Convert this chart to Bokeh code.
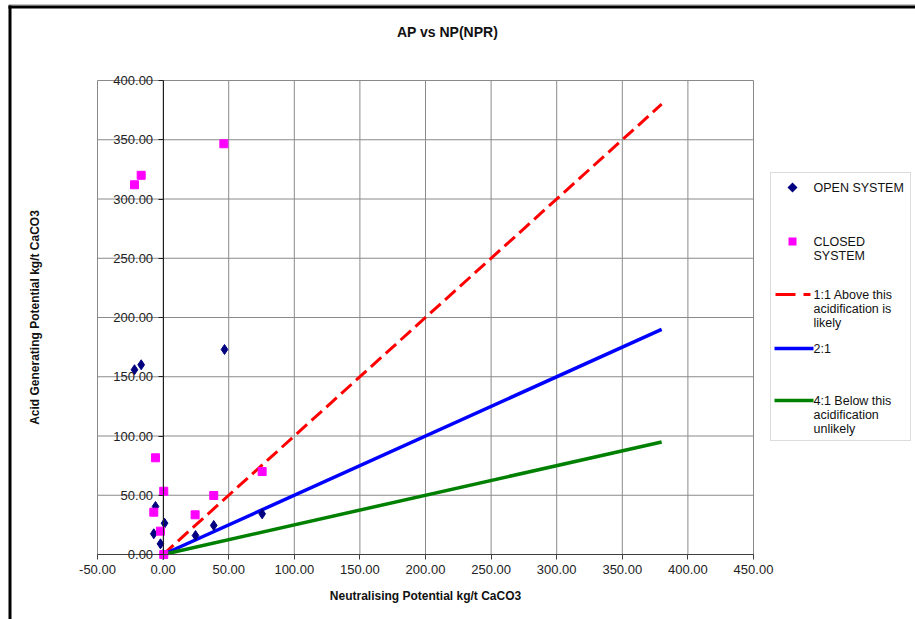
import math
from bokeh.plotting import figure
from bokeh.models import (LinearAxis, Label, BoxAnnotation, PolyAnnotation, Range1d,
                          FixedTicker, NumeralTickFormatter)
from bokeh.embed import file_html
from bokeh.resources import INLINE

# ---- data ----
open_np = [-5.8, -7.1, -2.0, 1.1, 24.7, 38.6, 75.5, -21.8, -16.7, 46.8, 0.0]
open_ap = [40.5, 17.5, 9.0, 26.4, 16.0, 24.5, 34.3, 155.9, 160.1, 173.0, 0.0]
closed_np = [-5.8, 0.5, -7.1, -2.0, 0.5, 24.4, 38.6, 75.5, -21.8, -16.7, 46.3]
closed_ap = [81.6, 53.4, 35.7, 19.7, 0.0, 33.5, 49.8, 70.0, 312.0, 320.0, 346.6]
ratio_np = [0, 380]
ratio_11 = [0, 380]
ratio_21 = [0, 190]
ratio_41 = [0, 95]
x_ticks = [-50, 0, 50, 100, 150, 200, 250, 300, 350, 400, 450]
y_ticks = [0, 50, 100, 150, 200, 250, 300, 350, 400]
legend_labels = ["OPEN SYSTEM", ["CLOSED", "SYSTEM"],
                 ["1:1 Above this", "acidification is", "likely"], "2:1",
                 ["4:1 Below this", "acidification", "unlikely"]]

FONT = "Liberation Sans"
W, H = 915, 619
# plot-area placement in canvas pixels: x=-50 -> 97, x=450 -> 753; y=0 -> 554, y=400 -> 80
PX0, PX1, PY0, PY1 = 97.0, 753.0, 554.0, 80.0
kx = (PX1 - PX0) / (x_ticks[-1] - x_ticks[0])
ky = (PY0 - PY1) / (y_ticks[-1] - y_ticks[0])
x_lo = x_ticks[0] - PX0 / kx
x_hi = x_ticks[0] + (W - PX0) / kx
y_lo = y_ticks[0] - (H - PY0) / ky
y_hi = y_ticks[0] + PY0 / ky

p = figure(width=W, height=H, output_backend="svg", toolbar_location=None,
           x_range=Range1d(x_lo, x_hi), y_range=Range1d(y_lo, y_hi),
           min_border=0, x_axis_location=None, y_axis_location=None)
p.background_fill_color = "white"
p.border_fill_color = "white"
p.outline_line_color = None
p.grid.visible = False

GRID = "#8a8a8a"
nx, ny = len(x_ticks), len(y_ticks)
# grid lines limited to the plot area
p.segment(x0=x_ticks, y0=[y_ticks[0]] * nx, x1=x_ticks, y1=[y_ticks[-1]] * nx,
          line_color=GRID, line_width=1, level="underlay")
p.segment(x0=[x_ticks[0]] * ny, y0=y_ticks, x1=[x_ticks[-1]] * ny, y1=y_ticks,
          line_color=GRID, line_width=1, level="underlay")

# x axis along y = 0
xa = LinearAxis(fixed_location=0, ticker=FixedTicker(ticks=x_ticks),
                formatter=NumeralTickFormatter(format="0.00"),
                bounds=(x_ticks[0], x_ticks[-1]))
xa.major_label_text_font = FONT
xa.major_label_text_font_size = "13px"
xa.major_label_text_color = "#222222"
xa.minor_tick_line_color = None
xa.major_tick_in = 0
xa.major_tick_out = 5
xa.axis_line_color = "#404040"
xa.major_tick_line_color = "#404040"
xa.axis_label = "Neutralising Potential kg/t CaCO3"
xa.axis_label_text_font = FONT
xa.axis_label_text_font_style = "bold"
xa.axis_label_text_font_size = "12px"
xa.axis_label_text_color = "#111111"
xa.axis_label_standoff = 12
p.add_layout(xa, "below")

# y axis crossing at x = 0
ya = LinearAxis(fixed_location=0, ticker=FixedTicker(ticks=y_ticks),
                formatter=NumeralTickFormatter(format="0.00"),
                bounds=(y_ticks[0], y_ticks[-1]))
ya.major_label_text_font = FONT
ya.major_label_text_font_size = "13px"
ya.major_label_text_color = "#222222"
ya.minor_tick_line_color = None
ya.major_tick_in = 0
ya.major_tick_out = 5
ya.axis_line_color = "#202020"
ya.major_tick_line_color = "#202020"
p.add_layout(ya, "left")

# ratio lines
p.line(ratio_np, ratio_11, line_color="#FF0000", line_width=3, line_dash="14 6")
p.line(ratio_np, ratio_21, line_color="#0000FF", line_width=3.5)
p.line(ratio_np, ratio_41, line_color="#008000", line_width=3.5)

# data points
p.scatter(open_np, open_ap, marker="diamond", size=10, color="#000080")
p.scatter(closed_np, closed_ap, marker="square", size=8, color="#FF00FF")

# helpers: canvas px (origin top-left) -> screen units (origin bottom-left of frame)
def sx(x):
    return x

def sy(y):
    return H - y

def scr(**kw):
    d = dict(left_units="screen", right_units="screen", top_units="screen",
             bottom_units="screen")
    d.update(kw)
    return d

def rect(x0, x1, y0, y1, color):
    p.add_layout(BoxAnnotation(**scr(left=sx(x0), right=sx(x1), top=sy(y0),
                                     bottom=sy(y1), fill_color=color,
                                     fill_alpha=1, line_color=None)))

# title and y label
p.add_layout(Label(x=sx(447), y=sy(31), x_units="screen", y_units="screen",
                   text="AP vs NP(NPR)", text_font=FONT, text_font_style="bold",
                   text_font_size="14px", text_align="center", text_baseline="middle",
                   text_color="#111111"))
p.add_layout(Label(x=sx(34), y=sy(317), x_units="screen", y_units="screen",
                   text="Acid Generating Potential kg/t CaCO3", angle=math.pi / 2,
                   text_font=FONT, text_font_style="bold", text_font_size="12px",
                   text_align="center", text_baseline="middle", text_color="#111111"))

# outer chart border (left and top edges visible, the rest is cut off)
rect(8, W, 3.5, 5, "#c4c4c4")
rect(8, W, 5, 8, "#000000")
rect(8, 11, 5, H, "#000000")

# legend box
p.add_layout(BoxAnnotation(**scr(left=sx(770), right=sx(910), top=sy(172), bottom=sy(440),
                                 fill_color="white", fill_alpha=1, line_color=GRID,
                                 line_width=1)))

# legend symbols
p.add_layout(PolyAnnotation(xs=[sx(787), sx(792), sx(797), sx(792)],
                            ys=[sy(187), sy(182), sy(187), sy(192)],
                            xs_units="screen", ys_units="screen",
                            fill_color="#000080", fill_alpha=1, line_color=None))
rect(788, 796, 237, 245, "#FF00FF")
rect(775, 795, 292.5, 295.5, "#FF0000")
rect(803, 810, 292.5, 295.5, "#FF0000")
rect(774, 813, 346.25, 349.75, "#0000FF")
rect(774, 813, 398.25, 401.75, "#008000")

legend_y = [[187], [241, 255], [294, 308, 322], [348], [400, 414, 428]]
for lab, ys in zip(legend_labels, legend_y):
    lines = lab if isinstance(lab, list) else [lab]
    for t, yy in zip(lines, ys):
        p.add_layout(Label(x=sx(813), y=sy(yy), x_units="screen", y_units="screen",
                           text=t, text_font=FONT, text_font_size="12.5px",
                           text_align="left", text_baseline="middle",
                           text_color="#111111"))

open("out.html", "w").write(file_html(p, INLINE))
